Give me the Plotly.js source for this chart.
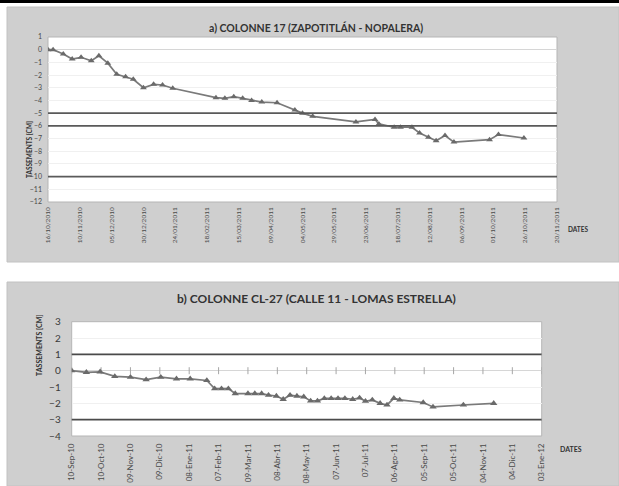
<!DOCTYPE html>
<html>
<head>
<meta charset="utf-8">
<script src="https://cdn.plot.ly/plotly-3.0.1.min.js"></script>
<style>
html,body{margin:0;padding:0;background:#fff;}
#chart{width:619px;height:486px;}
</style>
</head>
<body>
<div id="chart"></div>
<script>
// ---- Chart a) COLONNE 17 ----
const datesA = ["2010-10-16","2010-10-20","2010-10-28","2010-11-04","2010-11-11","2010-11-19","2010-11-25","2010-12-02","2010-12-09","2010-12-16","2010-12-22","2010-12-30","2011-01-07","2011-01-14","2011-01-22","2011-02-25","2011-03-04","2011-03-11","2011-03-18","2011-03-25","2011-04-02","2011-04-14","2011-04-28","2011-05-04","2011-05-12","2011-06-15","2011-06-30","2011-07-03","2011-07-15","2011-07-20","2011-07-29","2011-08-04","2011-08-11","2011-08-17","2011-08-24","2011-08-31","2011-09-28","2011-10-05","2011-10-25"];
const valuesA = [0,0,-0.34,-0.74,-0.6,-0.87,-0.48,-1.06,-1.93,-2.14,-2.33,-3.0,-2.73,-2.78,-3.04,-3.78,-3.83,-3.7,-3.83,-4.0,-4.13,-4.18,-4.76,-5.0,-5.25,-5.69,-5.5,-5.85,-6.11,-6.11,-6.11,-6.56,-6.9,-7.17,-6.77,-7.28,-7.09,-6.69,-6.96];
const tickValsA = ["2010-10-16","2010-11-10","2010-12-05","2010-12-30","2011-01-24","2011-02-18","2011-03-15","2011-04-09","2011-05-04","2011-05-29","2011-06-23","2011-07-18","2011-08-12","2011-09-06","2011-10-01","2011-10-26","2011-11-20"];
const tickTextA = ["16/10/2010","10/11/2010","05/12/2010","30/12/2010","24/01/2011","18/02/2011","15/03/2011","09/04/2011","04/05/2011","29/05/2011","23/06/2011","18/07/2011","12/08/2011","06/09/2011","01/10/2011","26/10/2011","20/11/2011"];
const yTicksA = [1,0,-1,-2,-3,-4,-5,-6,-7,-8,-9,-10,-11,-12];
const limitsA = [-5,-6,-10];
const titleA = "a) COLONNE 17 (ZAPOTITLÁN - NOPALERA)";

// ---- Chart b) COLONNE CL-27 ----
const datesB = ["2010-09-10","2010-09-25","2010-10-09","2010-10-24","2010-11-09","2010-11-25","2010-12-10","2010-12-26","2011-01-09","2011-01-26","2011-02-03","2011-02-10","2011-02-17","2011-02-24","2011-03-09","2011-03-16","2011-03-23","2011-03-30","2011-04-07","2011-04-14","2011-04-21","2011-04-28","2011-05-05","2011-05-12","2011-05-19","2011-05-26","2011-06-02","2011-06-09","2011-06-16","2011-06-24","2011-07-01","2011-07-07","2011-07-14","2011-07-22","2011-07-29","2011-08-05","2011-08-11","2011-09-04","2011-09-14","2011-10-15","2011-11-15"];
const valuesB = [0,-0.1,-0.07,-0.35,-0.4,-0.55,-0.4,-0.5,-0.5,-0.6,-1.1,-1.1,-1.1,-1.4,-1.4,-1.4,-1.4,-1.5,-1.55,-1.75,-1.5,-1.55,-1.6,-1.85,-1.85,-1.7,-1.7,-1.7,-1.7,-1.75,-1.67,-1.87,-1.79,-2.0,-2.1,-1.69,-1.79,-1.95,-2.22,-2.1,-2.0];
const tickValsB = ["2010-09-10","2010-10-10","2010-11-09","2010-12-09","2011-01-08","2011-02-07","2011-03-09","2011-04-08","2011-05-08","2011-06-07","2011-07-07","2011-08-06","2011-09-05","2011-10-05","2011-11-04","2011-12-04","2012-01-03"];
const tickTextB = ["10-Sep-10","10-Oct-10","09-Nov-10","09-Dic-10","08-Ene-11","07-Feb-11","09-Mar-11","08-Abr-11","08-May-11","07-Jun-11","07-Jul-11","06-Ago-11","05-Sep-11","05-Oct-11","04-Nov-11","04-Dic-11","03-Ene-12"];
const yTicksB = [3,2,1,0,-1,-2,-3,-4];
const limitsB = [1,-3];
const titleB = "b) COLONNE CL-27 (CALLE 11 - LOMAS ESTRELLA)";

const W = 619, H = 486;
const px = v => v / W;
const py = v => 1 - v / H;
const FONT = "Lato, 'Open Sans', sans-serif";
const lineGray = "#7a7a7a";

const traces = [
  {x: datesA, y: valuesA, type: "scatter", mode: "lines+markers", xaxis: "x", yaxis: "y",
   line: {color: lineGray, width: 1.7},
   marker: {symbol: "triangle-up", size: 6, color: "#6a6a6a"}, hoverinfo: "skip"},
  {x: tickValsB, y: tickValsB.map(() => 0), type: "scatter", mode: "markers", xaxis: "x2", yaxis: "y2",
   marker: {symbol: "line-ns-open", size: 5, color: "#a6a6a6", line: {color: "#a6a6a6", width: 1}}, hoverinfo: "skip"},
  {x: datesB, y: valuesB, type: "scatter", mode: "lines+markers", xaxis: "x2", yaxis: "y2",
   line: {color: lineGray, width: 1.7},
   marker: {symbol: "triangle-up", size: 6.5, color: "#6a6a6a"}, hoverinfo: "skip"}
];

const shapes = [
  {type: "rect", xref: "paper", yref: "paper", x0: 0, x1: 1, y0: py(3), y1: 1, fillcolor: "#000", line: {width: 0}, layer: "below"},
  {type: "rect", xref: "paper", yref: "paper", x0: px(7), x1: 1, y0: py(262), y1: py(7), fillcolor: "#cfcfcf", line: {color: "#c2c2c2", width: 1}, layer: "below"},
  {type: "rect", xref: "paper", yref: "paper", x0: px(7), x1: 1, y0: 0, y1: py(282), fillcolor: "#cfcfcf", line: {color: "#c2c2c2", width: 1}, layer: "below"},
  {type: "rect", xref: "x domain", yref: "y domain", x0: 0, x1: 1, y0: 0, y1: 1, fillcolor: "#fff", line: {color: "#b5b5b5", width: 1}, layer: "below"},
  {type: "rect", xref: "x2 domain", yref: "y2 domain", x0: 0, x1: 1, y0: 0, y1: 1, fillcolor: "#fff", line: {color: "#b5b5b5", width: 1}, layer: "below"}
];
limitsA.forEach(v => shapes.push({type: "line", xref: "x domain", yref: "y", x0: 0, x1: 1, y0: v, y1: v, line: {color: "#5a5a5a", width: 1.6}}));
limitsB.forEach(v => shapes.push({type: "line", xref: "x2 domain", yref: "y2", x0: 0, x1: 1, y0: v, y1: v, line: {color: "#4a4a4a", width: 1.8}}));

const annotations = [
  {text: "<b>" + titleA + "</b>", xref: "paper", yref: "paper", x: px(316), y: py(19), showarrow: false,
   font: {family: FONT, size: 10.5, color: "#333"}},
  {text: "<b>" + titleB + "</b>", xref: "paper", yref: "paper", x: px(316), y: py(298), showarrow: false,
   font: {family: FONT, size: 12, color: "#333"}},
  {text: "<b>TASSEMENTS [CM]</b>", xref: "paper", yref: "paper", x: px(24), y: py(119), textangle: -90, showarrow: false,
   font: {family: FONT, size: 6.5, color: "#333"}},
  {text: "<b>TASSEMENTS [CM]</b>", xref: "paper", yref: "paper", x: px(33), y: py(378), textangle: -90, showarrow: false,
   font: {family: FONT, size: 7, color: "#333"}},
  {text: "<b>DATES</b>", xref: "paper", yref: "paper", x: px(590), y: py(230), showarrow: false,
   font: {family: FONT, size: 6.5, color: "#333"}},
  {text: "<b>DATES</b>", xref: "paper", yref: "paper", x: px(584), y: py(455), showarrow: false,
   font: {family: FONT, size: 7, color: "#333"}}
];

const layout = {
  width: W, height: H,
  margin: {l: 0, r: 0, t: 0, b: 0},
  paper_bgcolor: "#fff", plot_bgcolor: "rgba(0,0,0,0)",
  showlegend: false,
  font: {family: FONT},
  xaxis: {domain: [px(48), px(557)], anchor: "y", type: "date",
    range: ["2010-10-16", "2011-11-20"], tickmode: "array", tickvals: tickValsA, ticktext: tickTextA,
    tickangle: -90, tickfont: {size: 6.5, color: "#4a4a4a"}, ticks: "", ticklabelstandoff: 3,
    showgrid: false, zeroline: false, showline: false},
  yaxis: {domain: [py(202), py(37)], anchor: "x", range: [-12, 1],
    tickmode: "array", tickvals: yTicksA, tickfont: {size: 7, color: "#4a4a4a"}, ticks: "", ticklabelstandoff: 5,
    showgrid: true, gridcolor: "#f0f0f0", gridwidth: 1,
    zeroline: true, zerolinecolor: "#d6d6d6", zerolinewidth: 1.5, showline: false},
  xaxis2: {domain: [px(71.7), px(541.7)], anchor: "y2", type: "date",
    range: ["2010-09-10", "2012-01-03"], tickmode: "array", tickvals: tickValsB, ticktext: tickTextB,
    tickangle: -90, tickfont: {size: 8, color: "#4a4a4a"}, ticks: "", ticklabelstandoff: 5,
    showgrid: false, zeroline: false, showline: false},
  yaxis2: {domain: [py(436), py(321.7)], anchor: "x2", range: [-4, 3],
    tickmode: "array", tickvals: yTicksB, tickfont: {size: 10, color: "#3a3a3a"}, ticks: "", ticklabelstandoff: 10,
    showgrid: true, gridcolor: "#f0f0f0", gridwidth: 1,
    zeroline: true, zerolinecolor: "#d6d6d6", zerolinewidth: 1.5, showline: false},
  shapes: shapes,
  annotations: annotations
};

Plotly.newPlot("chart", traces, layout, {displayModeBar: false, staticPlot: true});
</script>
</body>
</html>
